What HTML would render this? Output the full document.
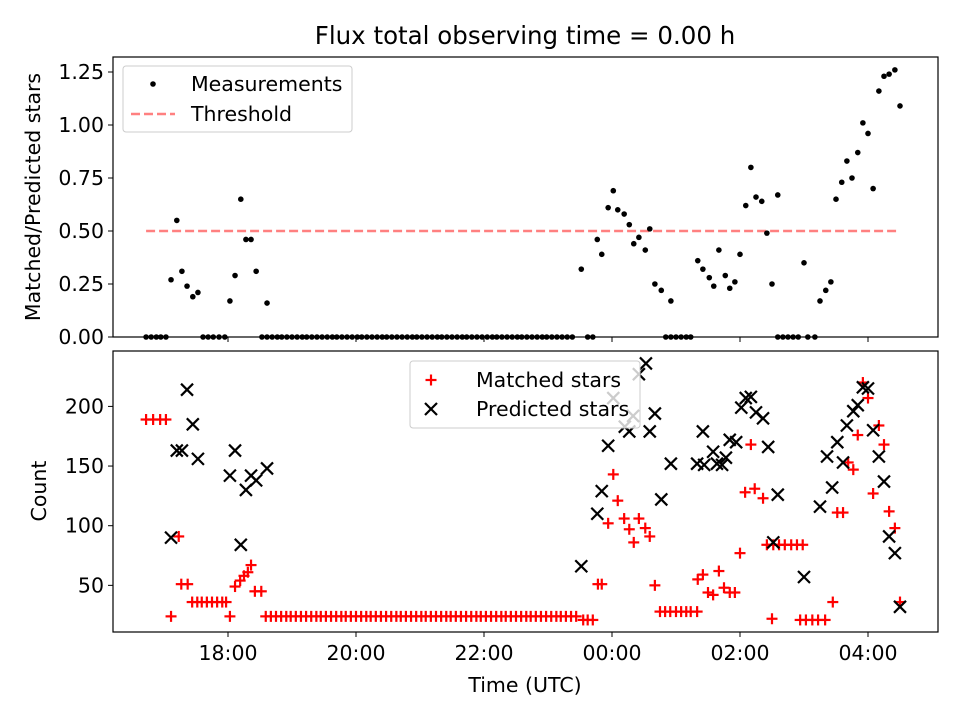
<!DOCTYPE html>
<html><head><meta charset="utf-8"><style>
body{margin:0;background:#fff}
svg{display:block;font-family:"DejaVu Sans","Liberation Sans",sans-serif}
</style></head><body>
<svg id="fig" width="960" height="720" viewBox="0 0 960 720"></svg>
<script>
// time in hours relative to 18:00 UTC
const measTimes=[-0.89,-0.80,-0.72,-0.64,-0.55,-0.47,0.03,0.11,0.20,0.28,0.36,0.44,0.61,5.52,5.77,5.84,5.94,6.02,6.09,6.19,6.27,6.34,6.42,6.52,6.59,6.67,6.77,6.92,7.34,7.42,7.52,7.59,7.67,7.77,7.84,7.92,8.00,8.09,8.17,8.25,8.34,8.42,8.50,8.59,9.00,9.25,9.34,9.42,9.50,9.59,9.67,9.75,9.84,9.92,10.00,10.08,10.17,10.25,10.33,10.42,10.50];
const measValues=[0.27,0.55,0.31,0.24,0.19,0.21,0.17,0.29,0.65,0.46,0.46,0.31,0.16,0.32,0.46,0.39,0.61,0.69,0.60,0.58,0.53,0.44,0.47,0.41,0.51,0.25,0.22,0.17,0.36,0.32,0.28,0.24,0.41,0.29,0.23,0.26,0.39,0.62,0.80,0.66,0.64,0.49,0.25,0.67,0.35,0.17,0.22,0.26,0.65,0.73,0.83,0.75,0.87,1.01,0.96,0.70,1.16,1.23,1.24,1.26,1.09];
const zeroTimes=[-1.28,-1.20,-1.12,-1.05,-0.97,-0.39,-0.31,-0.23,-0.14,-0.05,0.53,0.61,0.69,0.77,0.84,0.92,1.00,1.08,1.16,1.23,1.31,1.39,1.47,1.55,1.63,1.70,1.78,1.86,1.94,2.02,2.09,2.17,2.25,2.33,2.41,2.48,2.56,2.64,2.72,2.80,2.88,2.95,3.03,3.11,3.19,3.27,3.34,3.42,3.50,3.58,3.66,3.73,3.81,3.89,3.97,4.05,4.13,4.20,4.28,4.36,4.44,4.52,4.59,4.67,4.75,4.83,4.91,4.98,5.06,5.14,5.22,5.30,5.38,5.62,5.70,6.84,6.92,7.00,7.08,7.16,7.23,8.59,8.67,8.75,8.83,8.91,9.06,9.17];
const threshold=0.5;
const predTimes=[-0.89,-0.80,-0.72,-0.64,-0.55,-0.47,0.03,0.11,0.20,0.28,0.36,0.44,0.61,5.52,5.77,5.84,5.94,6.02,6.20,6.27,6.33,6.42,6.53,6.59,6.67,6.77,6.92,7.33,7.42,7.44,7.58,7.64,7.72,7.78,7.84,7.94,8.02,8.09,8.17,8.25,8.36,8.44,8.59,8.52,9.00,9.25,9.36,9.44,9.52,9.61,9.67,9.77,9.84,9.92,10.00,10.08,10.17,10.25,10.33,10.42,10.50];
const predCounts=[90,163,163,214,185,156,142,163,84,130,142,138,148,66,110,129,167,207,183,179,192,227,236,179,194,122,152,152,179,151,162,152,151,157,172,170,199,207,208,195,190,166,126,86,57,116,158,132,170,153,184,196,201,216,215,180,158,137,91,77,32];
const matchTimes=[-1.28,-1.17,-1.06,-0.97,-0.89,-0.77,-0.73,-0.63,-0.56,-0.48,-0.41,-0.33,-0.25,-0.17,-0.09,-0.03,0.03,0.11,0.19,0.25,0.31,0.36,0.42,0.52,5.78,5.84,6.02,5.94,6.09,6.19,6.27,6.34,6.42,6.52,6.59,6.67,6.75,6.83,6.91,7.00,7.08,7.16,7.23,7.33,7.34,7.42,7.50,7.58,7.67,7.75,7.84,7.92,8.00,8.08,8.23,8.17,8.36,8.50,8.42,8.52,8.61,8.70,8.80,8.89,8.98,8.94,9.03,9.13,9.22,9.33,9.45,9.52,9.61,9.69,9.77,9.84,9.92,10.00,10.17,10.25,10.08,10.33,10.42,10.50];
const matchCounts=[189,189,189,189,24,91,51,51,36,36,36,36,36,36,36,36,24,49,54,58,61,67,45,45,51,51,143,102,121,106,97,86,106,98,91,50,28,28,28,28,28,28,28,28,55,59,44,42,62,48,44,44,77,128,131,168,123,22,84,84,84,84,84,84,84,21,21,21,21,21,36,111,111,153,147,176,220,207,184,168,127,112,98,36];
const lowTimes=[0.59,0.67,0.75,0.83,0.91,0.98,1.06,1.14,1.22,1.30,1.38,1.45,1.53,1.61,1.69,1.77,1.84,1.92,2.00,2.08,2.16,2.23,2.31,2.39,2.47,2.55,2.63,2.70,2.78,2.86,2.94,3.02,3.09,3.17,3.25,3.33,3.41,3.48,3.56,3.64,3.72,3.80,3.88,3.95,4.03,4.11,4.19,4.27,4.34,4.42,4.50,4.58,4.66,4.73,4.81,4.89,4.97,5.05,5.13,5.20,5.28,5.36,5.44,5.55,5.62,5.70];
const lowCounts=[24,24,24,24,24,24,24,24,24,24,24,24,24,24,24,24,24,24,24,24,24,24,24,24,24,24,24,24,24,24,24,24,24,24,24,24,24,24,24,24,24,24,24,24,24,24,24,24,24,24,24,24,24,24,24,24,24,24,24,24,24,24,24,21,21,21];
const xTickVals=[0,2,4,6,8,10];
const xTickLabels=["18:00","20:00","22:00","00:00","02:00","04:00"];
const topTicks=[0,0.25,0.5,0.75,1.0,1.25];
const topTickLabels=["0.00","0.25","0.50","0.75","1.00","1.25"];
const botTicks=[50,100,150,200];

const NS="http://www.w3.org/2000/svg";
const svg=document.getElementById('fig');
function el(tag,attrs,parent){const e=document.createElementNS(NS,tag);for(const k in attrs)e.setAttribute(k,attrs[k]);(parent||svg).appendChild(e);return e;}
const X=t=>228+64*t;
const YT=v=>337-212*v;
const YB=c=>645-1.193*c;
const L=113,R=938;
const FS=20.5;

const title=el('text',{x:525,y:44,'text-anchor':'middle','font-size':24.5});
title.textContent='Flux total observing time = 0.00 h';



// ---- top panel
const gTop=el('g',{});


const thr=el('line',{x1:X(-1.28),x2:X(10.5),y1:YT(threshold),y2:YT(threshold),stroke:'#ff8080','stroke-width':2.4,'stroke-dasharray':'9,4'},gTop);


measTimes.forEach((t,i)=>{const c=el('circle',{cx:X(t),cy:YT(measValues[i]),r:2.8,fill:'#000'},gTop);

});
zeroTimes.forEach(t=>{const c=el('circle',{cx:X(t),cy:YT(0),r:2.8,fill:'#000'},gTop);

});
const frT=el('rect',{x:L,y:57,width:R-L,height:280,fill:'none',stroke:'#000','stroke-width':1.2},gTop);


topTicks.forEach((v,i)=>{el('line',{x1:L-5,x2:L,y1:YT(v),y2:YT(v),stroke:'#000'},gTop);
const tx=el('text',{x:L-9,y:YT(v)+7,'text-anchor':'end','font-size':FS},gTop);tx.textContent=topTickLabels[i];

});
xTickVals.forEach(t=>el('line',{x1:X(t),x2:X(t),y1:337,y2:342,stroke:'#000'},gTop));
const ylT=el('text',{transform:'translate(40,197) rotate(-90)','text-anchor':'middle','font-size':FS},gTop);
ylT.textContent='Matched/Predicted stars';


const lg1=el('g',{},gTop);


el('rect',{x:123,y:66,width:229,height:66,rx:3,fill:'#fff','fill-opacity':0.8,stroke:'#ccc'},lg1);
el('circle',{cx:153,cy:84,r:2.8,fill:'#000'},lg1);
let t1=el('text',{x:191,y:91,'font-size':FS},lg1);t1.textContent='Measurements';
el('line',{x1:131,x2:175,y1:114,y2:114,stroke:'#ff8080','stroke-width':2.4,'stroke-dasharray':'9,4'},lg1);
let t2=el('text',{x:191,y:121,'font-size':FS},lg1);t2.textContent='Threshold';

// ---- bottom panel
const gB=el('g',{});


function plus(x,y,p){const g=el('g',{stroke:'#f00','stroke-width':2.2},p);el('line',{x1:x-5.5,x2:x+5.5,y1:y,y2:y},g);el('line',{x1:x,x2:x,y1:y-5.5,y2:y+5.5},g);return g;}
function cross(x,y,p){const g=el('g',{stroke:'#000','stroke-width':2.2},p);el('line',{x1:x-6,x2:x+6,y1:y-6,y2:y+6},g);el('line',{x1:x-6,x2:x+6,y1:y+6,y2:y-6},g);return g;}
matchTimes.forEach((t,i)=>{const g=plus(X(t),YB(matchCounts[i]),gB);

});
lowTimes.forEach((t,i)=>{const g=plus(X(t),YB(lowCounts[i]),gB);

});
predTimes.forEach((t,i)=>{const g=cross(X(t),YB(predCounts[i]),gB);

});
const frB=el('rect',{x:L,y:351,width:R-L,height:281,fill:'none',stroke:'#000','stroke-width':1.2},gB);


botTicks.forEach(v=>{el('line',{x1:L-5,x2:L,y1:YB(v),y2:YB(v),stroke:'#000'},gB);
const tx=el('text',{x:L-9,y:YB(v)+7,'text-anchor':'end','font-size':FS},gB);tx.textContent=String(v);

});
xTickVals.forEach((t,i)=>{el('line',{x1:X(t),x2:X(t),y1:632,y2:637,stroke:'#000'},gB);
const tx=el('text',{x:X(t),y:660,'text-anchor':'middle','font-size':FS},gB);tx.textContent=xTickLabels[i];

});
const ylB=el('text',{transform:'translate(46,491) rotate(-90)','text-anchor':'middle','font-size':FS},gB);
ylB.textContent='Count';


const xl=el('text',{x:525,y:692,'text-anchor':'middle','font-size':FS},gB);
xl.textContent='Time (UTC)';


const lg2=el('g',{},gB);


el('rect',{x:410,y:361,width:230,height:67,rx:3,fill:'#fff','fill-opacity':0.8,stroke:'#ccc'},lg2);
plus(431,380,lg2);
let t3=el('text',{x:476,y:387,'font-size':FS},lg2);t3.textContent='Matched stars';
cross(431,409,lg2);
let t4=el('text',{x:476,y:416,'font-size':FS},lg2);t4.textContent='Predicted stars';
</script>
</body></html>
